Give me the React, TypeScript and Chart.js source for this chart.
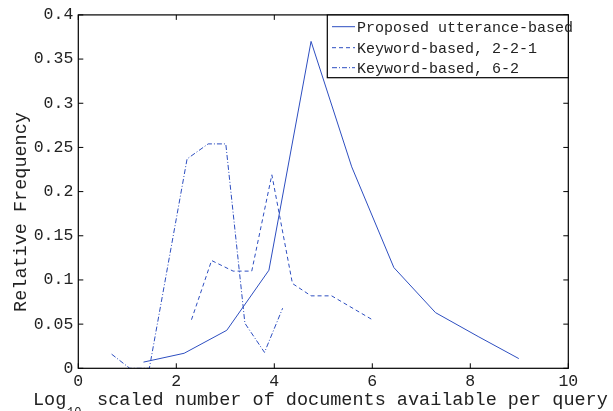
import React, { useEffect, useRef } from "react";
import { Chart, registerables } from "chart.js";

Chart.register(...registerables);

// ---- Data ----
const utteranceX = [1.33, 2.16, 3.03, 3.89, 4.75, 5.58, 6.44, 7.29, 8.16, 8.99];
const utteranceY = [0.007, 0.017, 0.043, 0.111, 0.37, 0.228, 0.114, 0.063, 0.036, 0.011];

const kw221X = [2.31, 2.72, 3.16, 3.54, 3.95, 4.37, 4.75, 5.17, 6.0];
const kw221Y = [0.055, 0.122, 0.11, 0.11, 0.219, 0.096, 0.082, 0.082, 0.055];

const kw62X = [0.68, 1.05, 1.45, 2.22, 2.65, 3.01, 3.4, 3.8, 4.17];
const kw62Y = [0.016, 0.0, 0.0, 0.237, 0.254, 0.254, 0.051, 0.018, 0.068];

const seriesLabels = [
  "Proposed utterance-based",
  "Keyword-based, 2-2-1",
  "Keyword-based, 6-2",
];
const xTicks = [0, 2, 4, 6, 8, 10];
const yTicks = [0, 0.05, 0.1, 0.15, 0.2, 0.25, 0.3, 0.35, 0.4];

const LINE_COLOR = "#2d4ec0";
const DASHES: number[][] = [[], [4, 3], [5, 2, 1, 2]];
const MONO = "'Liberation Mono', 'DejaVu Sans Mono', monospace";

const toPoints = (xs: number[], ys: number[]) =>
  xs.map((x, i) => ({ x, y: ys[i] }));

const framePlugin = {
  id: "frame",
  afterDraw(chart: any) {
    const { ctx, chartArea, scales } = chart;
    const { left, right, top, bottom } = chartArea;
    ctx.save();
    // box
    ctx.strokeStyle = "#000";
    ctx.lineWidth = 1.2;
    ctx.setLineDash([]);
    ctx.strokeRect(left, top, right - left, bottom - top);
    // inward ticks
    const tl = 5;
    ctx.lineWidth = 1;
    ctx.beginPath();
    xTicks.forEach((v) => {
      const px = scales.x.getPixelForValue(v);
      ctx.moveTo(px, bottom);
      ctx.lineTo(px, bottom - tl);
      ctx.moveTo(px, top);
      ctx.lineTo(px, top + tl);
    });
    yTicks.forEach((v) => {
      const py = scales.y.getPixelForValue(v);
      ctx.moveTo(left, py);
      ctx.lineTo(left + tl, py);
      ctx.moveTo(right, py);
      ctx.lineTo(right - tl, py);
    });
    ctx.stroke();

    // legend
    const lx0 = 327.3;
    const ly0 = 15;
    const lx1 = right;
    const ly1 = 77.7;
    ctx.fillStyle = "#fff";
    ctx.fillRect(lx0, ly0, lx1 - lx0, ly1 - ly0);
    ctx.strokeStyle = "#000";
    ctx.lineWidth = 1.2;
    ctx.strokeRect(lx0, ly0, lx1 - lx0, ly1 - ly0);
    const rows = [26.7, 47.7, 67.7];
    ctx.font = `15px ${MONO}`;
    ctx.textBaseline = "middle";
    ctx.textAlign = "left";
    seriesLabels.forEach((lab, i) => {
      ctx.strokeStyle = LINE_COLOR;
      ctx.lineWidth = 1;
      ctx.setLineDash(DASHES[i]);
      ctx.beginPath();
      ctx.moveTo(332, rows[i]);
      ctx.lineTo(355, rows[i]);
      ctx.stroke();
      ctx.setLineDash([]);
      ctx.fillStyle = "#222";
      ctx.fillText(lab, 357, rows[i] + 1);
    });

    // x title with subscript
    ctx.fillStyle = "#222";
    ctx.textBaseline = "alphabetic";
    ctx.font = `18.5px ${MONO}`;
    ctx.fillText("Log", 33, 405);
    ctx.font = `12px ${MONO}`;
    ctx.fillText("10", 67, 416);
    ctx.font = `18.5px ${MONO}`;
    ctx.fillText(" scaled number of documents available per query", 86, 405);

    // y title
    ctx.translate(26, 212);
    ctx.rotate(-Math.PI / 2);
    ctx.textAlign = "center";
    ctx.fillText("Relative Frequency", 0, 0);
    ctx.restore();
  },
};

export default function App() {
  const canvasRef = useRef<HTMLCanvasElement | null>(null);

  useEffect(() => {
    if (!canvasRef.current) return;
    const data = [
      toPoints(utteranceX, utteranceY),
      toPoints(kw221X, kw221Y),
      toPoints(kw62X, kw62Y),
    ];
    const chart = new Chart(canvasRef.current, {
      type: "line",
      data: {
        datasets: data.map((d, i) => ({
          label: seriesLabels[i],
          data: d,
          borderColor: LINE_COLOR,
          borderWidth: 1,
          borderDash: DASHES[i],
          pointRadius: 0,
          fill: false,
          tension: 0,
        })),
      },
      options: {
        animation: false,
        responsive: false,
        maintainAspectRatio: false,
        layout: { padding: { top: 14.7, right: 44.7, left: 0, bottom: 0 } },
        plugins: {
          legend: { display: false },
          tooltip: { enabled: false },
        },
        scales: {
          x: {
            type: "linear",
            min: 0,
            max: 10,
            afterFit: (s: any) => {
              s.height = 42.7;
            },
            afterBuildTicks: (s: any) => {
              s.ticks = xTicks.map((v) => ({ value: v }));
            },
            grid: { display: false, drawTicks: false },
            border: { display: false },
            ticks: {
              padding: 3,
              color: "#222",
              font: { family: MONO, size: 16.5 },
              maxRotation: 0,
            },
          },
          y: {
            type: "linear",
            min: 0,
            max: 0.4,
            afterFit: (s: any) => {
              s.width = 78.3;
            },
            afterBuildTicks: (s: any) => {
              s.ticks = yTicks.map((v) => ({ value: v }));
            },
            grid: { display: false, drawTicks: false },
            border: { display: false },
            ticks: {
              padding: 5,
              color: "#222",
              font: { family: MONO, size: 16.5 },
              callback: (v: any) => String(+Number(v).toFixed(2)),
            },
          },
        },
      },
      plugins: [framePlugin],
    });
    return () => chart.destroy();
  }, []);

  return (
    <div style={{ position: "absolute", left: 0, top: 0, width: 613, height: 411 }}>
      <canvas ref={canvasRef} width={613} height={411} style={{ width: 613, height: 411 }} />
    </div>
  );
}
